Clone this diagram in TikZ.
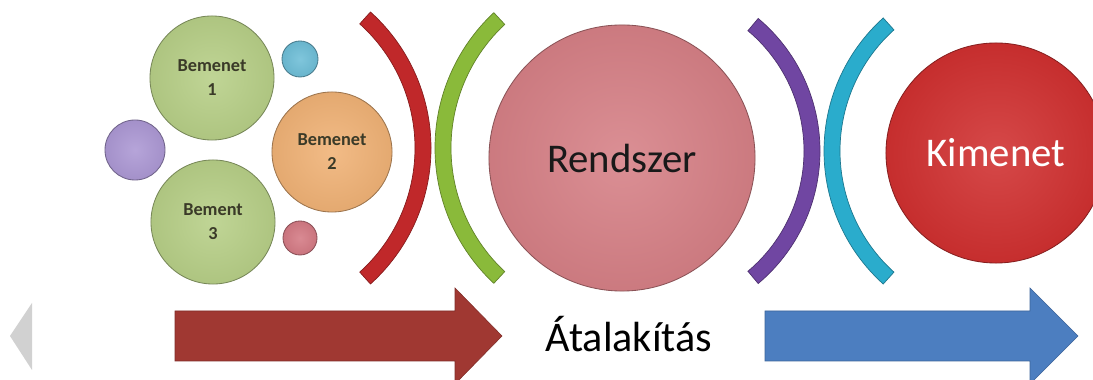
\documentclass[tikz,border=0pt]{standalone}
\usepackage{fontspec}
\setmainfont{Carlito}
\usetikzlibrary{calc}

\definecolor{bgreen}{RGB}{183,207,135}
\definecolor{bcyan}{RGB}{110,190,215}
\definecolor{bpurple}{RGB}{172,152,212}
\definecolor{borange}{RGB}{240,178,118}
\definecolor{bpink}{RGB}{212,122,132}
\definecolor{arcred}{RGB}{192,40,42}
\definecolor{arcgreen}{RGB}{138,186,58}
\definecolor{rendpink}{RGB}{214,128,134}
\definecolor{arcpurple}{RGB}{112,70,162}
\definecolor{arccyan}{RGB}{42,172,204}
\definecolor{kimred}{RGB}{208,48,48}
\definecolor{arrowred}{RGB}{160,56,50}
\definecolor{arrowblue}{RGB}{76,126,192}
\definecolor{labeltext}{RGB}{58,58,40}

% band between two radii, like a thick bracket
\def\band[#1](#2)(#3:#4:#5:#6){\filldraw[#1] ($(#2)+(#3:#5)$) arc (#3:#4:#5) -- ($(#2)+(#4:#6)$) arc (#4:#3:#6) -- cycle;}

\tikzset{
	bubble/.style={circle, draw=#1!65!black, line width=0.6pt, inner color=#1!88!white, outer color=#1!95!black, inner sep=0pt, align=center},
	smalltext/.style={text=labeltext, font=\fontsize{13}{17}\selectfont\bfseries},
	bigtext/.style={font=\fontsize{29}{32}\selectfont}
}

\begin{document}
\begin{tikzpicture}[x=0.025cm, y=0.025cm]
				%%%%% START %%%%%
				\clip (0,0) rectangle (1093,380);
				\fill[white] (0,0) rectangle (1093,380);
				
				% input bubbles
				\node[bubble=bgreen, minimum size=31mm, smalltext] (be1) at (212,302) {Bemenet\\1};
				\node[bubble=bcyan, minimum size=9mm] (dot1) at (300,321) {};
				\node[bubble=bpurple, minimum size=15mm] (dot2) at (135,230) {};
				\node[bubble=borange, minimum size=30mm, smalltext] (be2) at (332,228) {Bemenet\\2};
				\node[bubble=bgreen, minimum size=31mm, smalltext] (be3) at (213,158) {Bement\\3};
				\node[bubble=bpink, minimum size=8.5mm] (dot3) at (300,142) {};
				
				% brackets
				\band[arcred, draw=arcred!70!black, line width=0.5pt](248,232)(-48:48:167:183);
				\band[arcgreen, draw=arcgreen!70!black, line width=0.5pt](620,232)(133:227:169:185);
				
				\node[bubble=rendpink, minimum size=66.5mm, bigtext, text=black!90] (rendszer) at (622,222) {Rendszer};
				
				\band[arcpurple, draw=arcpurple!70!black, line width=0.5pt](647,229)(-50:50:157:173);
				\band[arccyan, draw=arccyan!70!black, line width=0.5pt](1003,229)(132:228:163:179);
				
				\node[bubble=kimred, minimum size=55mm, bigtext, text=white] (kimenet) at (996,227) {Kimenet};
				
				% arrows
				\filldraw[arrowred, draw=arrowred!80!black] (175,19) -- (455,19) -- (455,-4) -- (502,44) -- (455,92) -- (455,69) -- (175,69) -- cycle;
				\node[font=\fontsize{30}{34}\selectfont] (atalakitas) at (629,46) {Átalakítás};
				\filldraw[arrowblue, draw=arrowblue!80!black] (765,19) -- (1030,19) -- (1030,-4) -- (1078,44) -- (1030,92) -- (1030,69) -- (765,69) -- cycle;
				
				\fill[black!18] (32,77) -- (32,10) -- (10,44) -- cycle;
				%%%%% END %%%%%
\end{tikzpicture}
\end{document}
